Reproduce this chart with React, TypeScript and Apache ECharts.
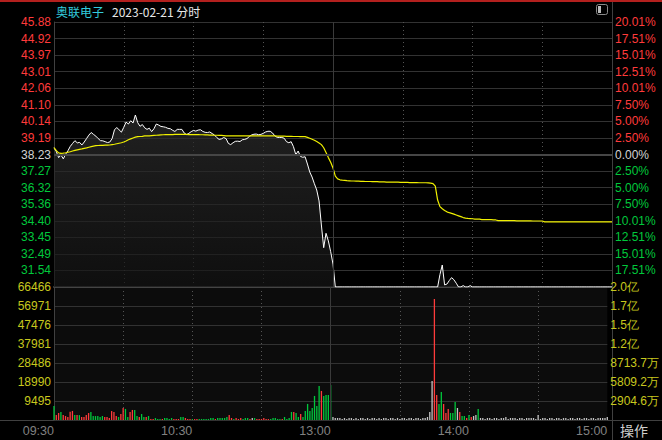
import React, { useEffect, useRef } from 'react';
import * as echarts from 'echarts';

const stockName = '奥联电子';
const headerText = '2023-02-21 分时';
const actionText = '操作';
const prevClose = 38.23;
const priceMin = 30.58;
const priceMax = 45.88;
const volMax = 66466;

const priceTickLabels = ['30.58', '31.54', '32.49', '33.45', '34.40', '35.36', '36.32', '37.27', '38.23', '39.19', '40.14', '41.10', '42.06', '43.01', '43.97', '44.92', '45.88'];
const pctTickLabels = ['20.01%', '17.51%', '15.01%', '12.51%', '10.01%', '7.50%', '5.00%', '2.50%', '0.00%', '2.50%', '5.00%', '7.50%', '10.01%', '12.51%', '15.01%', '17.51%', '20.01%'];
const volTickLabels = ['0', '9495', '18990', '28486', '37981', '47476', '56971', '66466'];
const amtTickLabels = ['0', '2904.6万', '5809.2万', '8713.7万', '1.2亿', '1.5亿', '1.7亿', '2.0亿'];
const timeTickCats = ['09:30', '10:30', '11:30', '14:00', '15:00'];
const timeTickLabels = ['09:30', '10:30', '13:00', '14:00', '15:00'];

// minute categories 09:30-11:30, 13:01-15:00
const times: string[] = [];
const pad = (n: number) => (n < 10 ? '0' + n : '' + n);
for (let m = 9 * 60 + 30; m <= 11 * 60 + 30; m++) times.push(pad(Math.floor(m / 60)) + ':' + pad(m % 60));
for (let m = 13 * 60 + 1; m <= 15 * 60; m++) times.push(pad(Math.floor(m / 60)) + ':' + pad(m % 60));

const priceData = [
  38.62, 38.40, 38.05, 38.20, 37.98, 38.25, 38.45, 38.70, 38.87, 39.03,
  38.90, 38.93, 38.78, 38.95, 39.15, 39.35, 39.50, 39.39, 39.29, 39.15,
  39.03, 39.02, 38.97, 38.92, 38.95, 39.15, 39.65, 39.79, 39.65, 39.52,
  39.80, 40.10, 39.99, 40.18, 40.05, 40.51, 40.07, 39.86, 39.96, 39.77,
  39.68, 39.75, 39.55, 39.72, 39.99, 39.93, 39.85, 39.83, 39.80, 39.74,
  39.72, 39.63, 39.56, 39.68, 39.68, 39.68, 39.47, 39.38, 39.45, 39.55,
  39.62, 39.58, 39.64, 39.66, 39.56, 39.51, 39.50, 39.53, 39.44, 39.36,
  39.21, 39.10, 39.13, 39.21, 39.15, 38.87, 38.80, 38.91, 38.99, 39.00,
  38.98, 39.08, 39.10, 39.15, 39.27, 39.36, 39.40, 39.41, 39.37, 39.39,
  39.45, 39.53, 39.57, 39.57, 39.47, 39.30, 39.22, 39.21, 39.21, 39.17,
  38.97, 38.91, 38.97, 38.68, 38.22, 38.43, 38.12, 38.07, 38.10, 37.68,
  37.22, 36.93, 36.54, 36.18, 35.55, 34.16, 32.85, 33.68, 33.24, 32.62,
  31.90,
  30.58, 30.58, 30.58, 30.58, 30.58, 30.58, 30.58, 30.58, 30.58, 30.58,
  30.58, 30.58, 30.58, 30.58, 30.58, 30.58, 30.58, 30.58, 30.58, 30.58,
  30.58, 30.58, 30.58, 30.58, 30.58, 30.58, 30.58, 30.58, 30.58, 30.58,
  30.58, 30.58, 30.58, 30.58, 30.58, 30.58, 30.58, 30.58, 30.58, 30.58,
  30.58, 30.58, 30.58, 30.58, 30.58, 31.30, 31.85, 30.70, 30.75, 30.95,
  31.12, 31.00, 30.80, 30.58, 30.58, 30.66, 30.58, 30.58, 30.66, 30.58,
  30.58, 30.58, 30.58, 30.58, 30.58, 30.58, 30.58, 30.58, 30.58, 30.58,
  30.58, 30.58, 30.58, 30.58, 30.58, 30.58, 30.58, 30.58, 30.58, 30.58,
  30.58, 30.58, 30.58, 30.58, 30.58, 30.58, 30.58, 30.58, 30.58, 30.58,
  30.58, 30.58, 30.58, 30.58, 30.58, 30.58, 30.58, 30.58, 30.58, 30.58,
  30.58, 30.58, 30.58, 30.58, 30.58, 30.58, 30.58, 30.58, 30.58, 30.58,
  30.58, 30.58, 30.58, 30.58, 30.58, 30.58, 30.58, 30.58, 30.58, 30.58,
];

const avgData = [
  38.62, 38.45, 38.32, 38.30, 38.31, 38.33, 38.36, 38.39, 38.43, 38.47,
  38.50, 38.53, 38.55, 38.58, 38.61, 38.65, 38.68, 38.71, 38.74, 38.75,
  38.76, 38.76, 38.77, 38.77, 38.78, 38.80, 38.82, 38.85, 38.88, 38.91,
  38.95, 39.01, 39.08, 39.13, 39.18, 39.23, 39.26, 39.27, 39.28, 39.30,
  39.30, 39.31, 39.32, 39.33, 39.34, 39.35, 39.36, 39.37, 39.38, 39.38,
  39.38, 39.38, 39.39, 39.39, 39.39, 39.39, 39.39, 39.39, 39.38, 39.38,
  39.38, 39.38, 39.38, 39.37, 39.37, 39.36, 39.36, 39.35, 39.35, 39.34,
  39.34, 39.33, 39.33, 39.32, 39.31, 39.30, 39.30, 39.30, 39.30, 39.30,
  39.30, 39.30, 39.30, 39.30, 39.30, 39.30, 39.30, 39.30, 39.30, 39.30,
  39.30, 39.30, 39.30, 39.30, 39.30, 39.30, 39.29, 39.29, 39.29, 39.29,
  39.28, 39.28, 39.28, 39.27, 39.27, 39.27, 39.26, 39.26, 39.26, 39.22,
  39.17, 39.11, 39.05, 38.98, 38.90, 38.80, 38.62, 38.35, 38.05, 37.78,
  37.45,
  36.98, 36.82, 36.77, 36.75, 36.74, 36.72, 36.71, 36.70, 36.70, 36.69,
  36.69, 36.68, 36.68, 36.67, 36.67, 36.67, 36.66, 36.66, 36.66, 36.65,
  36.65, 36.65, 36.64, 36.64, 36.64, 36.63, 36.63, 36.63, 36.62, 36.62,
  36.62, 36.62, 36.61, 36.61, 36.61, 36.61, 36.60, 36.60, 36.60, 36.60,
  36.59, 36.58, 36.55, 36.40, 35.60, 35.22, 35.10, 35.00, 34.92, 34.87,
  34.83, 34.79, 34.74, 34.69, 34.64, 34.59, 34.56, 34.54, 34.53, 34.52,
  34.50, 34.50, 34.50, 34.47, 34.47, 34.47, 34.47, 34.47, 34.46, 34.45,
  34.41, 34.41, 34.41, 34.41, 34.41, 34.41, 34.41, 34.41, 34.40, 34.40,
  34.40, 34.40, 34.40, 34.40, 34.40, 34.39, 34.39, 34.39, 34.39, 34.39,
  34.34, 34.34, 34.34, 34.34, 34.34, 34.34, 34.34, 34.34, 34.34, 34.34,
  34.34, 34.34, 34.34, 34.34, 34.34, 34.34, 34.34, 34.34, 34.34, 34.34,
  34.34, 34.34, 34.34, 34.34, 34.34, 34.34, 34.34, 34.34, 34.34, 34.34,
];

const volumeData = [
  7020, 2480, 3510, 4060, 2530, 1980, 1460, 4120, 4530, 2470,
  2560, 2440, 1530, 1490, 2520, 3480, 4010, 2030, 1960, 2050,
  1520, 2010, 1480, 1540, 1030, 4480, 4050, 1990, 1510, 3020,
  5980, 5530, 1470, 3990, 5020, 4980, 2040, 1520, 2980, 1490,
  1530, 2010, 560, 520, 980, 540, 480, 510, 1020, 960,
  520, 990, 470, 530, 510, 1480, 1520, 1010, 490, 520,
  510, 480, 530, 470, 520, 490, 510, 530, 1010, 980,
  500, 1030, 970, 1010, 990, 1520, 2480, 1010, 520, 990,
  510, 1020, 480, 990, 1030, 520, 960, 1010, 490, 510,
  530, 1020, 490, 470, 510, 990, 1010, 520, 480, 500,
  1510, 530, 980, 4020, 3980, 3520, 1490, 3010, 1530, 4510,
  8030, 4470, 5980, 12020, 6980, 16980, 14520, 11980, 12510, 12470,
  17530,
  1480, 1010, 990, 1020, 540, 1010, 520, 990, 980, 510,
  1020, 480, 990, 1010, 520, 990, 510, 980, 1000, 530,
  990, 510, 1010, 980, 520, 1010, 990, 480, 1020, 510,
  990, 1010, 520, 980, 1000, 510, 990, 1020, 530, 980,
  1010, 1490, 3980, 19520, 60480, 12530, 7980, 14020, 7990, 3510,
  5490, 3520, 3480, 9010, 5990, 4020, 2010, 1990, 1010, 2490,
  1520, 2010, 2490, 5510, 1010, 990, 520, 1010, 980, 510,
  1010, 990, 520, 1000, 980, 1510, 520, 990, 1010, 1020,
  510, 990, 1000, 520, 1010, 980, 1020, 990, 510, 2510,
  520, 990, 1010, 510, 980, 1000, 520, 990, 1010, 510,
  980, 1000, 520, 990, 1010, 510, 980, 1000, 520, 990,
  1010, 510, 980, 1000, 520, 990, 1010, 980, 1020, 1490,
];

// R = up (red), G = down (green), W = flat (grey)
const volumeDir = (
  'GRRGRRRRRG' + 'RGRRRRGGGG' + 'GGRRRRRRGR' + 'RGGRRGGRGG' + 'RGRRGGGRGG' +
  'GGRRRGGRRR' + 'GRRGGGGGGG' + 'RGGGGGRRGR' + 'RRGGGRWGRR' + 'RRRRGGGGGR' +
  'GGGGRGGRGG' + 'GGGGGGRGGG' + 'G' +
  'WWWWWWWWWW' + 'WWWWWWWWWW' + 'WWWWWWWWWW' + 'WWWWWWWWWW' +
  'WWWWRRGGRR' + 'RGGGWRGGRG' + 'RWWGWWWWWW' +
  'WWWWWWWWWW' + 'WWWWWWWWWW' + 'WWWWWWWWWW' + 'WWWWWWWWWW' + 'WWWWWWWWWW'
).split('');

const RED = '#ff3b3b';
const GREEN = '#00c83c';
const GREY = '#c4c4c4';
const YELLOW_LBL = '#c8c81e';
const LBL_FONT = '"Liberation Sans", Arial, sans-serif';
const CJK_FONT = '"Noto Sans CJK SC", "Noto Sans", sans-serif';

export default function App() {
  const ref = useRef<HTMLDivElement>(null);
  useEffect(() => {
    document.body.style.margin = '0';
    document.body.style.background = '#000';
    const chart = echarts.init(ref.current!, null, { renderer: 'svg' });
    const dirColor = (d: string) => (d === 'R' ? RED : d === 'G' ? GREEN : GREY);
    const vInterval = (i: number) => i % 30 === 0 && i > 0 && i < 240 && i !== 120;
    const priceColor = (v: any) => {
      const i = Math.round(Number(v));
      return i > 8 ? RED : i === 8 ? '#d2d2d2' : GREEN;
    };
    const splitColor = '#323232';
    const option: any = {
      animation: false,
      backgroundColor: '#000',
      grid: [
        { left: 54, right: 50, top: 22, height: 265, show: false },
        { left: 54, right: 50, top: 287, height: 133, show: true, backgroundColor: '#0c0c0c', borderWidth: 0 },
      ],
      xAxis: [
        {
          type: 'category', gridIndex: 0, data: times, boundaryGap: false,
          axisLabel: { show: false }, axisTick: { show: false },
          axisLine: { show: true, onZero: false, lineStyle: { color: '#444', width: 2 } },
          splitLine: { show: true, interval: vInterval, lineStyle: { color: '#555', type: [1, 3], width: 1 } },
        },
        {
          type: 'category', gridIndex: 1, data: times, boundaryGap: false,
          axisTick: { show: false },
          axisLine: { show: false },
          axisLabel: {
            show: true,
            interval: (i: number, v: string) => timeTickCats.indexOf(v) >= 0,
            formatter: (v: string) => {
              const k = timeTickCats.indexOf(v);
              return k >= 0 ? timeTickLabels[k] : '';
            },
            align: 'right', color: '#808080', fontSize: 12.5, fontFamily: LBL_FONT, margin: 4,
          },
          splitLine: { show: true, interval: vInterval, lineStyle: { color: '#555', type: [1, 3], width: 1 } },
        },
      ],
      yAxis: [
        { type: 'value', gridIndex: 0, min: priceMin, max: priceMax, show: false },
        {
          type: 'value', gridIndex: 0, position: 'left', min: 0, max: 16, interval: 1,
          axisLine: { show: true, lineStyle: { color: '#404040' } }, axisTick: { show: false },
          axisLabel: {
            formatter: (v: number) => { const i = Math.round(v); return i === 0 ? '' : priceTickLabels[i]; },
            color: priceColor, fontSize: 12, fontFamily: LBL_FONT, margin: 3,
          },
          splitLine: { show: true, lineStyle: { color: splitColor, width: 1 } },
        },
        {
          type: 'value', gridIndex: 0, position: 'right', min: 0, max: 16, interval: 1,
          axisLine: { show: false }, axisTick: { show: false },
          axisLabel: {
            formatter: (v: number) => { const i = Math.round(v); return i === 0 ? '' : pctTickLabels[i]; },
            color: priceColor, fontSize: 12, fontFamily: LBL_FONT, margin: 3,
          },
          splitLine: { show: false },
        },
        { type: 'value', gridIndex: 1, min: 0, max: volMax, show: false },
        {
          type: 'value', gridIndex: 1, position: 'left', min: 0, max: 7, interval: 1,
          axisLine: { show: true, lineStyle: { color: '#404040' } }, axisTick: { show: false },
          axisLabel: {
            formatter: (v: number) => { const i = Math.round(v); return i === 0 ? '' : volTickLabels[i]; },
            color: YELLOW_LBL, fontSize: 12, fontFamily: LBL_FONT, margin: 3,
          },
          splitLine: { show: true, lineStyle: { color: splitColor, width: 1 } },
        },
        {
          type: 'value', gridIndex: 1, position: 'right', min: 0, max: 7, interval: 1,
          axisLine: { show: false }, axisTick: { show: false },
          axisLabel: {
            formatter: (v: number) => { const i = Math.round(v); return i === 0 ? '' : amtTickLabels[i]; },
            color: YELLOW_LBL, fontSize: 12, fontFamily: LBL_FONT, margin: 3,
          },
          splitLine: { show: false },
        },
      ],
      series: [
        {
          type: 'line', name: 'price', xAxisIndex: 0, yAxisIndex: 0, data: priceData,
          symbol: 'none', lineStyle: { color: '#ffffff', width: 1 }, itemStyle: { color: '#fff' },
          areaStyle: {
            origin: 'start',
            color: { type: 'linear', x: 0, y: 0, x2: 0, y2: 1, colorStops: [{ offset: 0, color: '#2e2e2e' }, { offset: 1, color: '#151515' }] },
          },
          z: 3,
          markLine: {
            silent: true, symbol: ['none', 'none'], label: { show: false },
            data: [
              { yAxis: prevClose, lineStyle: { color: '#464646', width: 2, type: 'solid' } },
              { xAxis: times[120], lineStyle: { color: '#3a3a3a', width: 1, type: 'solid' } },
            ],
          },
        },
        {
          type: 'line', name: 'avg', xAxisIndex: 0, yAxisIndex: 0, data: avgData,
          symbol: 'none', lineStyle: { color: '#f0f000', width: 1.2 }, itemStyle: { color: '#f0f000' }, z: 4,
        },
        {
          type: 'bar', name: 'volume', xAxisIndex: 1, yAxisIndex: 3, barWidth: 1.3,
          data: volumeData.map((v, i) => ({ value: v, itemStyle: { color: dirColor(volumeDir[i]) } })),
          markLine: {
            silent: true, symbol: ['none', 'none'], label: { show: false },
            data: [{ xAxis: times[120], lineStyle: { color: '#3a3a3a', width: 1, type: 'solid' } }],
          },
        },
      ],
      graphic: [
        { type: 'rect', shape: { x: 0, y: 0, width: 662, height: 2 }, style: { fill: '#b3201e' }, silent: true },
        { type: 'text', x: 56, y: 11, style: { text: stockName, fill: '#33ccdd', font: '12px ' + CJK_FONT, textVerticalAlign: 'middle' } },
        { type: 'text', x: 112, y: 11, style: { text: headerText, fill: '#e8e8e8', font: '12px ' + CJK_FONT, textVerticalAlign: 'middle' } },
        { type: 'rect', shape: { x: 596.5, y: 4.5, width: 11, height: 10, r: 2 }, style: { fill: 'none', stroke: '#8a8a8a', lineWidth: 1 } },
        { type: 'rect', shape: { x: 598, y: 6, width: 3, height: 7 }, style: { fill: '#bbbbbb' } },
        { type: 'line', shape: { x1: 612.5, y1: 2, x2: 612.5, y2: 440 }, style: { stroke: '#404040', lineWidth: 1 } },
        { type: 'line', shape: { x1: 0, y1: 420.5, x2: 662, y2: 420.5 }, style: { stroke: '#404040', lineWidth: 1 } },
        { type: 'text', x: 620, y: 430, style: { text: actionText, fill: '#cfcfcf', font: '14px ' + CJK_FONT, textVerticalAlign: 'middle' } },
      ],
    };
    chart.setOption(option);
    return () => chart.dispose();
  }, []);
  return <div ref={ref} style={{ position: 'fixed', left: 0, top: 0, width: 662, height: 440, background: '#000' }} />;
}
